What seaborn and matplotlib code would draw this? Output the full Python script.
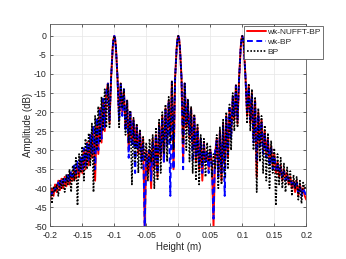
"""Range profile comparison: wk-NUFFT-BP vs wk-BP vs BP (three point targets)."""
import matplotlib
matplotlib.use("Agg")
import matplotlib.pyplot as plt
import numpy as np
import pandas as pd
import seaborn as sns

# sample positions along the height axis (mm)
height_mm = [
    -200, -197.5, -195, -192.5, -190, -187.5, -185, -182.5, -180, -177.5,
    -175, -172.5, -170, -167.5, -165, -162.5, -160, -157.5, -155, -152.5,
    -150, -147.5, -145, -142.5, -140, -137.5, -135, -132.5, -130, -127.5,
    -125, -122.5, -120, -117.5, -115, -112.5, -110, -107.5, -105, -102.5,
    -101.25, -100, -98.75, -97.5, -95, -92.5, -90, -87.5, -85, -82.5,
    -80, -77.5, -75, -72.5, -70, -67.5, -65, -62.5, -60, -57.5,
    -55, -52.5, -50, -47.5, -45, -42.5, -40, -37.5, -35, -32.5,
    -30, -27.5, -25, -22.5, -20, -17.5, -15, -12.5, -10, -7.5,
    -5, -2.5, -1.25, 0, 1.25, 2.5, 5, 7.5, 10, 12.5,
    15, 17.5, 20, 22.5, 25, 27.5, 30, 32.5, 35, 37.5,
    40, 42.5, 45, 47.5, 50, 52.5, 55, 57.5, 60, 62.5,
    65, 67.5, 70, 72.5, 75, 77.5, 80, 82.5, 85, 87.5,
    90, 92.5, 95, 97.5, 98.75, 100, 101.25, 102.5, 105, 107.5,
    110, 112.5, 115, 117.5, 120, 122.5, 125, 127.5, 130, 132.5,
    135, 137.5, 140, 142.5, 145, 147.5, 150, 152.5, 155, 157.5,
    160, 162.5, 165, 167.5, 170, 172.5, 175, 177.5, 180, 182.5,
    185, 187.5, 190, 192.5, 195, 197.5, 200,
]

# amplitude in dB
wk_nufft_bp = [
    -43, -40, -42, -39, -41, -38, -40.5, -37.5, -40, -37,
    -39.5, -36.5, -39, -36, -38, -35, -37.5, -33.5, -37, -32,
    -36, -30, -35, -28, -34, -26, -32, -24, -38, -22,
    -31, -19, -28, -17, -25, -15, -12.5, -23, -11, -3,
    -0.8, 0, -0.8, -3, -11, -21, -12.5, -20, -14.5, -24,
    -17, -30, -20, -28, -22, -29, -23.5, -31, -25, -32,
    -27, -50, -30, -36, -30, -40, -27, -35, -26, -37,
    -23, -32, -21, -33, -19, -28, -17, -26, -12, -35,
    -11, -3, -0.8, 0, -0.8, -3, -11, -33, -12.5, -24,
    -17, -27, -19, -30, -21, -33, -24, -35, -27, -38,
    -28, -33, -31, -35, -30, -33, -50, -31, -27, -36,
    -25, -38, -23, -34, -21, -32, -19, -26, -16, -22,
    -13, -23, -11, -3, -0.8, 0, -0.8, -3, -11, -21,
    -13, -23, -15, -27, -17, -37, -20, -28, -22, -30,
    -25, -31, -27, -33, -29, -34, -31, -36, -33, -37,
    -34, -38, -35, -37, -36, -39, -37, -40, -38, -41,
    -38, -42, -39, -41, -40, -42, -43,
]

wk_bp = [
    -42, -41, -41.5, -40, -40, -38.5, -39.5, -38, -39, -37.5,
    -38.5, -36, -38, -35.5, -37, -34, -36, -33, -36, -31.5,
    -35, -29.5, -34, -28, -33, -26, -31, -23.5, -35, -21.5,
    -30, -19, -27, -16.5, -24, -14.5, -12.5, -22, -11, -3,
    -0.8, 0, -0.8, -3, -11, -22, -12.5, -21, -14, -25,
    -17, -32, -20, -29, -22, -36, -24, -30, -25.5, -33,
    -28, -50, -31, -34, -30, -38, -27.5, -34, -26, -36,
    -23.5, -31, -21.5, -33, -19.5, -29, -17, -42, -12, -35,
    -11, -3, -0.8, 0, -0.8, -3, -11, -35, -12.5, -23,
    -17.5, -26, -19.5, -33, -21.5, -32, -24.5, -34, -27, -36,
    -28.5, -33, -30.5, -36, -30, -34, -48, -30, -27.5, -37,
    -25.5, -36, -23.5, -42, -21.5, -31, -19, -27, -16, -21,
    -13, -22, -11, -3, -0.8, 0, -0.8, -3, -11, -20,
    -13.5, -22, -15.5, -28, -17.5, -33, -20.5, -29, -22.5, -31,
    -25.5, -32, -27.5, -34, -29, -35, -31.5, -35, -33.5, -36,
    -34.5, -37, -35.5, -38, -36.5, -38, -37.5, -39, -38, -40,
    -38.5, -41, -39.5, -42, -40, -41, -42,
]

bp = [
    -39, -44, -39.5, -41, -39, -42, -38, -40, -37.5, -41,
    -36.5, -39, -35, -41, -34, -38, -32, -44.5, -31, -36,
    -29, -38, -27, -35, -25.5, -34, -23, -41, -21, -30,
    -18.5, -28, -16, -25, -14, -24, -12.5, -24, -11, -3,
    -0.8, 0, -0.8, -3, -11, -24, -12.5, -19, -14, -26,
    -17, -28, -19.5, -39, -21.5, -33, -23, -36, -24.5, -35,
    -26.5, -33, -28, -38, -27, -33, -26, -40, -24, -38,
    -22, -36, -20, -31, -18, -33, -16, -28, -12, -30,
    -11, -3, -0.8, 0, -0.8, -3, -11, -28, -12.5, -30,
    -16.5, -33, -18.5, -36, -20.5, -38, -23, -39, -26, -34,
    -27, -37, -28, -33, -29, -37, -31, -35, -26, -40,
    -24, -39, -22, -37, -20, -35, -18, -30, -15, -25,
    -13, -24, -11, -3, -0.8, 0, -0.8, -3, -11, -23,
    -12.5, -25, -14, -30, -16, -41, -19, -33, -21, -36,
    -23.5, -38, -25.5, -40, -27.5, -36, -29.5, -44.5, -31, -39,
    -32, -40, -33.5, -41, -34.5, -39, -35.5, -42, -36.5, -40,
    -37, -43, -38, -44, -38.5, -40, -39,
]

series_names = ["wk-NUFFT-BP", "wk-BP", "BP"]
x_ticks = [-0.2, -0.15, -0.1, -0.05, 0, 0.05, 0.1, 0.15, 0.2]
x_tick_labels = ["-0.2", "-0.15", "-0.1", "-0.05", "0", "0.05", "0.1", "0.15", "0.2"]
y_ticks = [0, -5, -10, -15, -20, -25, -30, -35, -40, -45, -50]
y_tick_labels = [str(v) for v in y_ticks]

sns.set_theme(style="whitegrid")
plt.rcParams["font.family"] = ["Liberation Sans", "DejaVu Sans"]
plt.rcParams["axes.unicode_minus"] = False

h = np.array(height_mm) / 1000.0
df = pd.DataFrame({"height": h, series_names[0]: wk_nufft_bp,
                   series_names[1]: wk_bp, series_names[2]: bp})

fig = plt.figure(figsize=(3.46, 2.59), dpi=100)
fig.patch.set_facecolor("white")
ax = fig.add_axes([0.1454, 0.126, 0.7399, 0.781])

styles = [("#ff0000", "-", 1.4), ("#0000ff", (0, (3, 1.8)), 1.4), ("#000000", (0, (1, 1)), 1.2)]
for name, (col, ls, lw) in zip(series_names, styles):
    sns.lineplot(data=df, x="height", y=name, ax=ax, color=col, linestyle=ls,
                 linewidth=lw, label=name, sort=False)

ax.set_xlim(-0.2, 0.2)
ax.set_ylim(-50, 3.1)
ax.set_xticks(x_ticks)
ax.set_xticklabels(x_tick_labels)
ax.set_yticks(y_ticks)
ax.set_yticklabels(y_tick_labels)
ax.set_xlabel("Height (m)", fontsize=7, color="0.15", labelpad=1.5)
ax.set_ylabel("Amplitude (dB)", fontsize=7, color="0.15", labelpad=1)
ax.tick_params(axis="both", labelsize=6.3, colors="0.15", direction="in",
               length=2.5, width=0.5, top=True, right=True, bottom=True, left=True)
ax.tick_params(axis="x", pad=3.5)
ax.tick_params(axis="y", pad=2.5)
ax.grid(True, color="0.9", linewidth=0.5)
ax.set_facecolor("white")
for sp in ax.spines.values():
    sp.set_color("0.35")
    sp.set_linewidth(0.6)

leg = ax.legend(loc="upper right", bbox_to_anchor=(1.07, 0.995), fontsize=6,
                frameon=True, fancybox=False, framealpha=1, edgecolor="0.35",
                handlelength=2.3, handletextpad=0.2, borderpad=0.3,
                labelspacing=0.25, borderaxespad=0.1)
leg.get_frame().set_linewidth(0.6)

fig.savefig("out.png", dpi=100, facecolor="white")
